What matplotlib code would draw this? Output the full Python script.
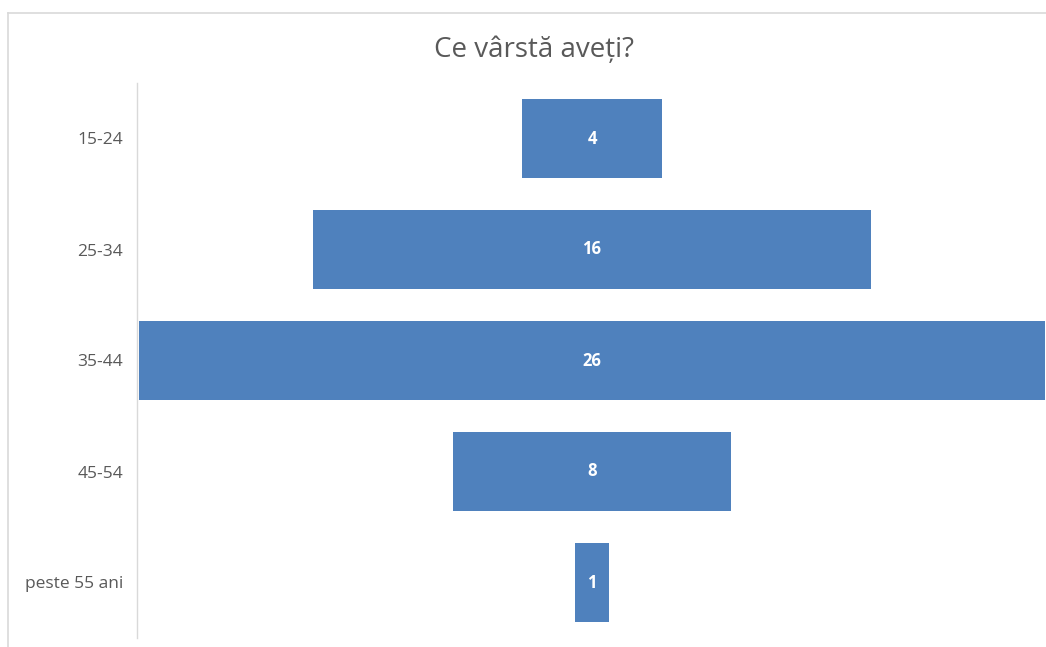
import matplotlib.pyplot as plt
from matplotlib.lines import Line2D

# Age groups (top to bottom) and respondent counts
categories = ['15-24', '25-34', '35-44', '45-54', 'peste 55 ani']
counts = [4, 16, 26, 8, 1]

bar_color = '#4F81BD'
text_color = '#595959'
line_color = '#D9D9D9'

W, H = 1046, 647
fig = plt.figure(figsize=(W / 100, H / 100), dpi=100)

# plot area in pixel coords: x 137..1047, y 83..638
ax = fig.add_axes([137 / W, 1 - 638 / H, (1047 - 137) / W, (638 - 83) / H])

y_pos = list(range(len(categories)))
lefts = [-c / 2 for c in counts]
ax.barh(y_pos, counts, left=lefts, height=0.71, color=bar_color)

for y, c in zip(y_pos, counts):
    ax.text(0, y, str(c), ha='center', va='center', color='white',
            fontsize=12, fontweight='bold', family='Open Sans')

max_c = max(counts)
ax.set_xlim(-max_c / 2 - 0.05, max_c / 2 + 0.05)
ax.set_ylim(len(categories) - 0.5, -0.5)

ax.set_yticks(y_pos)
ax.set_yticklabels(categories, family='Open Sans', fontsize=12.5, color=text_color)
ax.tick_params(axis='y', length=0, pad=10)
ax.set_xticks([])

for side in ['top', 'right', 'bottom']:
    ax.spines[side].set_visible(False)
ax.spines['left'].set_color(line_color)
ax.spines['left'].set_linewidth(1.0)

fig.text(534 / W, 1 - 50 / H, 'Ce vârstă aveți?', ha='center', va='center',
         fontsize=20, color=text_color, family='Open Sans')

# chart frame (cropped: only top and left edges visible)
fig.add_artist(Line2D([8 / W, 1.0], [1 - 13 / H, 1 - 13 / H], transform=fig.transFigure,
                      color=line_color, linewidth=1.2))
fig.add_artist(Line2D([8 / W, 8 / W], [0.0, 1 - 13 / H], transform=fig.transFigure,
                      color=line_color, linewidth=1.2))

fig.savefig('out.png', dpi=100)
